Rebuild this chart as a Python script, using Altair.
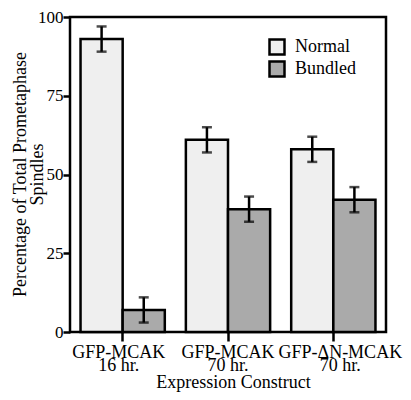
import altair as alt
import pandas as pd

categories = ["GFP-MCAK\n16 hr.", "GFP-MCAK\n70 hr.", "GFP-ΔN-MCAK\n70 hr."]
series = ["Normal", "Bundled"]
normal = [93, 61, 58]
bundled = [7, 39, 42]
normal_err = [4, 4, 4]
bundled_err = [4, 4, 4]
y_ticks = [0, 25, 50, 75, 100]
colors = ["#efefef", "#aaaaaa"]

rows = []
for i, c in enumerate(categories):
    rows.append(dict(construct=c, type="Normal", value=normal[i],
                     lo=normal[i] - normal_err[i], hi=normal[i] + normal_err[i]))
    rows.append(dict(construct=c, type="Bundled", value=bundled[i],
                     lo=bundled[i] - bundled_err[i], hi=bundled[i] + bundled_err[i]))
df = pd.DataFrame(rows)

FONT = "Liberation Serif"
W, H = 316, 315


def is_cat(c):
    return "datum.value == '" + c.replace("\n", "\\n") + "'"


x = alt.X("construct:N", sort=categories,
          scale=alt.Scale(paddingInner=0.2, paddingOuter=0.1),
          axis=alt.Axis(title="Expression Construct", labelAngle=0,
                        labelExpr="split(datum.label, '\\n')",
                        tickSize=9, tickWidth=2.5, tickColor="black",
                        labelFontSize=18, titleFontSize=18,
                        labelBaseline="alphabetic", labelPadding=16,
                        labelLineHeight=13,
                        labelOffset={"condition": [
                            {"test": is_cat(categories[0]), "value": -4},
                            {"test": is_cat(categories[2]), "value": 7}],
                            "value": 0},
                        titleX=163, titleY=55, titleBaseline="alphabetic",
                        labelFont=FONT, titleFont=FONT, titleFontWeight="normal",
                        labelColor="black", titleColor="black", domain=False))
xo = alt.XOffset("type:N", sort=series,
                 scale=alt.Scale(paddingInner=0, paddingOuter=0))
yscale = alt.Scale(domain=[0, 100], nice=False)

bars = alt.Chart(df).mark_bar(stroke="black", strokeWidth=2.5).encode(
    x=x, xOffset=xo,
    y=alt.Y("value:Q", scale=yscale,
            axis=alt.Axis(values=y_ticks, title=["Percentage of Total Prometaphase", "Spindles"],
                          tickSize=7, tickWidth=2.5, tickColor="black",
                          labelFontSize=17, titleFontSize=18, labelPadding=0,
                          titleX=-45, titleY=157, titleBaseline="alphabetic",
                          titleLineHeight=17,
                          grid=False, domain=False,
                          labelFont=FONT, titleFont=FONT, titleFontWeight="normal",
                          labelColor="black", titleColor="black")),
    color=alt.Color("type:N", sort=series,
                    scale=alt.Scale(domain=series, range=colors),
                    legend=alt.Legend(orient="none", legendX=198, legendY=21, title=None,
                                      symbolType="square", symbolSize=225,
                                      symbolStrokeColor="black", symbolStrokeWidth=2.5,
                                      labelFontSize=18, rowPadding=-5, labelOffset=9,
                                      padding=0, labelFont=FONT, labelColor="black")),
)

rules = alt.Chart(df).mark_rule(color="black", strokeWidth=2.5).encode(
    x=x, xOffset=xo, y=alt.Y("lo:Q", scale=yscale), y2="hi:Q")
caps_hi = alt.Chart(df).mark_tick(color="black", thickness=2.5, size=10).encode(
    x=x, xOffset=xo, y=alt.Y("hi:Q", scale=yscale))
caps_lo = alt.Chart(df).mark_tick(color="black", thickness=2.5, size=10).encode(
    x=x, xOffset=xo, y=alt.Y("lo:Q", scale=yscale))

chart = alt.layer(bars, rules, caps_hi, caps_lo).properties(
    width=W, height=H, background="white",
    autosize=alt.AutoSizeParams(type="none"),
    padding={"left": 62, "top": 9, "right": 17, "bottom": 62}
).configure_view(
    stroke="black", strokeWidth=2.5
)

chart.save("out.html", embed_options={"renderer": "svg", "actions": False})
